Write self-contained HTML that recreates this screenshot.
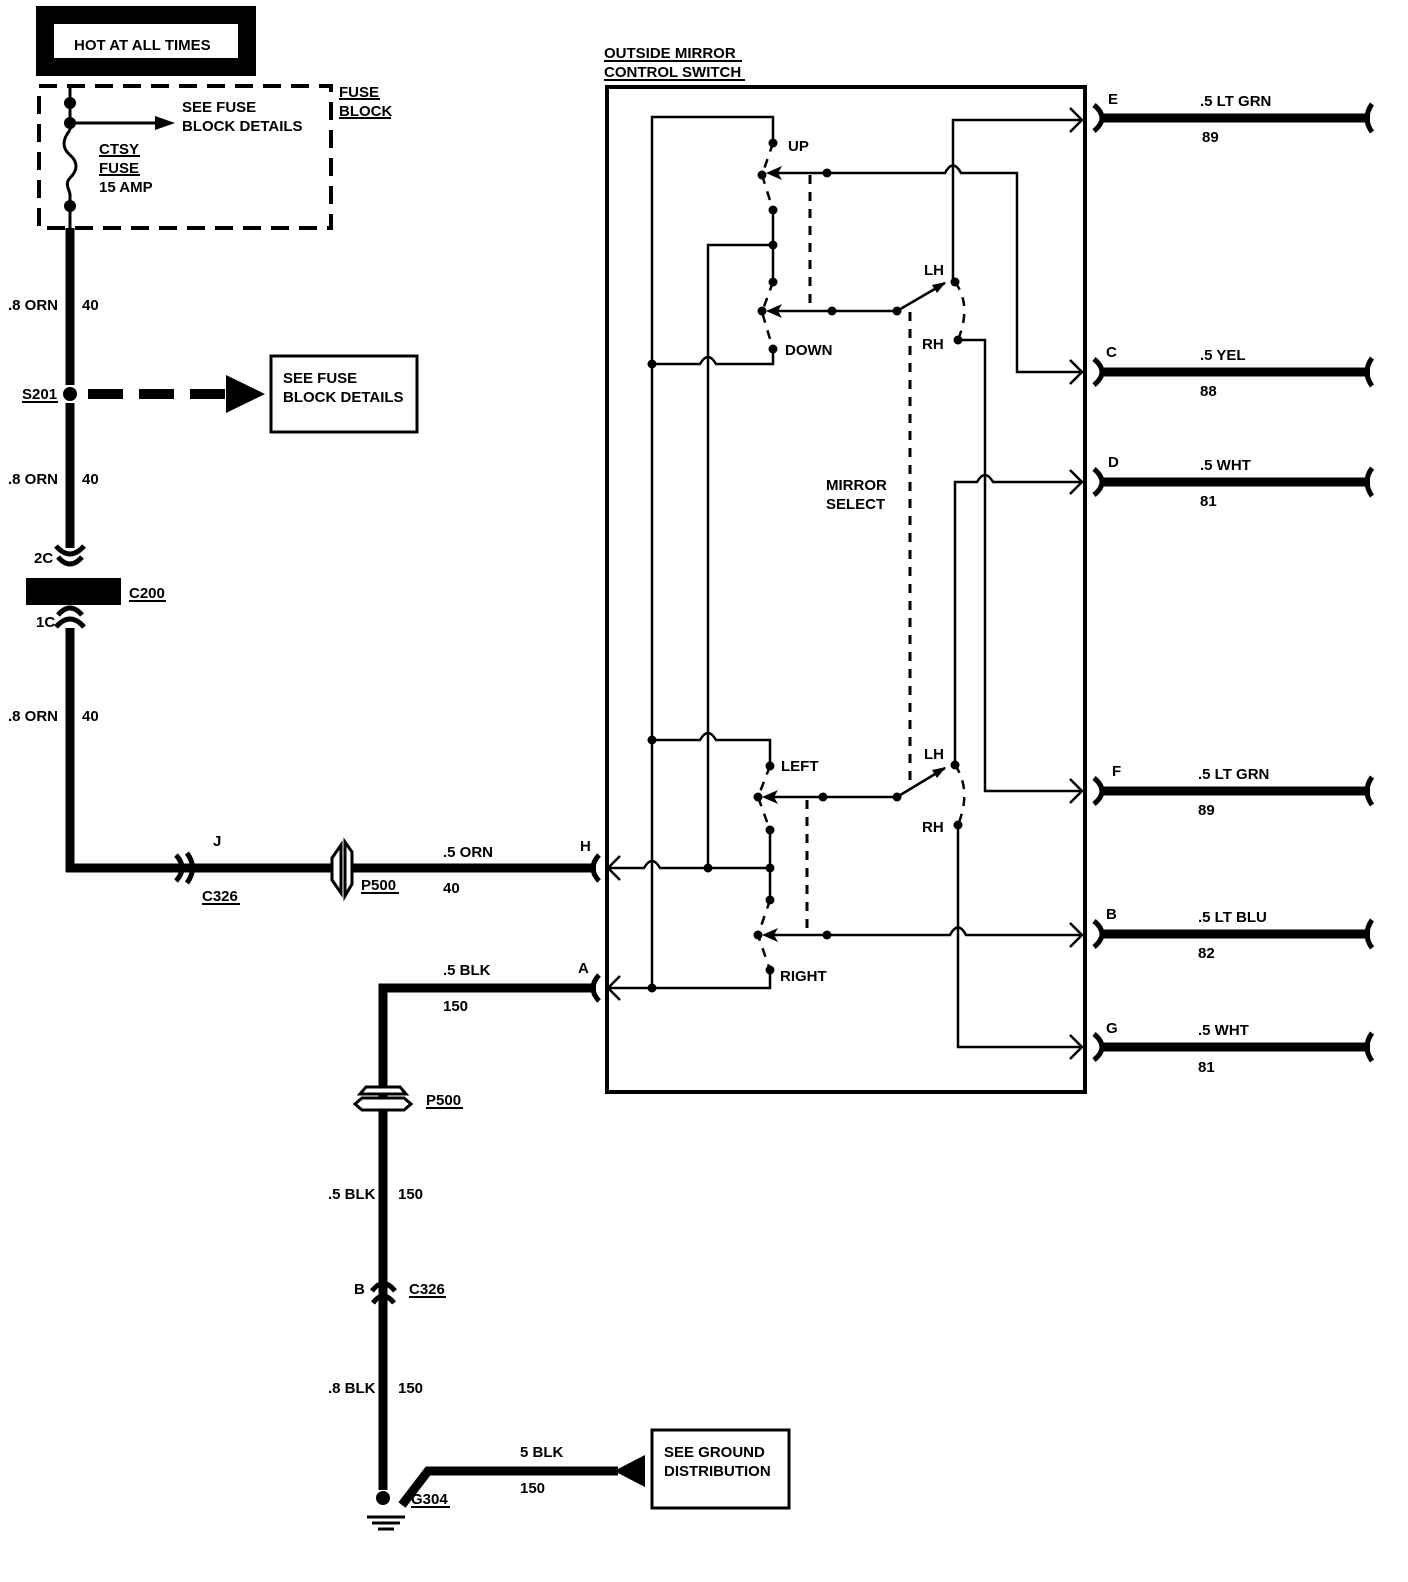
<!DOCTYPE html>
<html><head><meta charset="utf-8"><style>
html,body{margin:0;padding:0;background:#fff;}
svg{display:block;}
text{font-family:"Liberation Sans",sans-serif;font-weight:bold;font-size:15px;fill:#000;}
</style></head><body>
<svg width="1408" height="1582" viewBox="0 0 1408 1582" xmlns="http://www.w3.org/2000/svg">
<g stroke="#000" fill="none" stroke-linecap="butt">
<rect x="45" y="15" width="202" height="52" stroke-width="18"/>
<rect x="39" y="86" width="292" height="142" stroke-width="4" stroke-dasharray="18,10"/>
<line x1="70" y1="86" x2="70" y2="130" stroke-width="3"/>
<path d="M70 130 C62 140,62 148,70 155 C78 162,78 170,70 178 C64 184,70 190,70 195" stroke-width="3"/>
<line x1="70" y1="195" x2="70" y2="228" stroke-width="3"/>
<line x1="70" y1="123" x2="160" y2="123" stroke-width="3"/>
<line x1="70" y1="228" x2="70" y2="385" stroke-width="9"/>
<line x1="70" y1="403" x2="70" y2="548" stroke-width="9"/>
<line x1="88" y1="394" x2="232" y2="394" stroke-width="10" stroke-dasharray="35,16"/>
<rect x="271" y="356" width="146" height="76" stroke-width="3"/>
<path d="M56 546 Q70 562 84 546" stroke-width="5"/>
<path d="M58 557 Q70 571 82 557" stroke-width="5"/>
<path d="M58 615 Q70 601 82 615" stroke-width="5"/>
<path d="M56 627 Q70 611 84 627" stroke-width="5"/>
<line x1="70" y1="628" x2="70" y2="872" stroke-width="9"/>
<line x1="66" y1="868" x2="210" y2="868" stroke-width="9"/>
<path d="M176 855 Q188 868 176 881" stroke-width="5"/>
<path d="M187 853 Q198 868 187 883" stroke-width="5"/>
<line x1="192" y1="868" x2="332" y2="868" stroke-width="9"/>
<path d="M341 845 L332 858 L332 880 L341 893 Z" stroke-width="3" fill="#fff"/>
<path d="M345 842 L352 852 L352 884 L345 896 Z" stroke-width="3" fill="#fff"/>
<line x1="352" y1="868" x2="596" y2="868" stroke-width="9"/>
<path d="M599 855 Q587 868 599 881" stroke-width="5"/>
<path d="M596 988 L383 988 L383 1490" stroke-width="9"/>
<path d="M599 975 Q587 988 599 1001" stroke-width="5"/>
<path d="M360 1094 L366 1087 L400 1087 L406 1094 Z" stroke-width="3" fill="#fff"/>
<path d="M355 1104 L362 1098 L404 1098 L411 1104 L404 1110 L362 1110 Z" stroke-width="3" fill="#fff"/>
<path d="M372 1291 Q383 1276 395 1291" stroke-width="5"/>
<path d="M373 1303 Q383 1289 394 1303" stroke-width="5"/>
<path d="M402 1505 L428 1471 L618 1471" stroke-width="9"/>
<line x1="367" y1="1517" x2="405" y2="1517" stroke-width="3"/>
<line x1="372" y1="1523" x2="400" y2="1523" stroke-width="3"/>
<line x1="378" y1="1529" x2="394" y2="1529" stroke-width="3"/>
<rect x="652" y="1430" width="137" height="78" stroke-width="3"/>
<rect x="607" y="87" width="478" height="1005" stroke-width="4"/>
<g stroke-width="9">
<line x1="1100" y1="118" x2="1370" y2="118"/>
<line x1="1100" y1="372" x2="1370" y2="372"/>
<line x1="1100" y1="482" x2="1370" y2="482"/>
<line x1="1100" y1="791" x2="1370" y2="791"/>
<line x1="1100" y1="934" x2="1370" y2="934"/>
<line x1="1100" y1="1047" x2="1370" y2="1047"/>
</g>
<g stroke-width="5">
<path d="M1094 105 Q1110 118 1094 131"/><path d="M1372 104 Q1362 118 1372 132"/>
<path d="M1094 359 Q1110 372 1094 385"/><path d="M1372 358 Q1362 372 1372 386"/>
<path d="M1094 469 Q1110 482 1094 495"/><path d="M1372 468 Q1362 482 1372 496"/>
<path d="M1094 778 Q1110 791 1094 804"/><path d="M1372 777 Q1362 791 1372 805"/>
<path d="M1094 921 Q1110 934 1094 947"/><path d="M1372 920 Q1362 934 1372 948"/>
<path d="M1094 1034 Q1110 1047 1094 1060"/><path d="M1372 1033 Q1362 1047 1372 1061"/>
</g>
<g stroke-width="2.5">
<path d="M652 988 L652 117 L773 117 L773 143"/>
<path d="M652 364 L700 364 Q708 350 716 364 L773 364 L773 349"/>
<path d="M708 868 L708 245 L773 245"/>
<line x1="773" y1="210" x2="773" y2="282"/>
<path d="M770 173 L945 173 Q953 158 961 173 L1017 173 L1017 372 L1080 372"/>
<path d="M953 282 L953 120 L1080 120"/>
<line x1="770" y1="311" x2="897" y2="311"/>
<line x1="897" y1="311" x2="945" y2="283"/>
<path d="M958 340 L985 340 L985 791 L1080 791"/>
<path d="M955 765 L955 482 L977 482 Q985 468 993 482 L1080 482"/>
<path d="M652 740 L700 740 Q708 726 716 740 L770 740 L770 766"/>
<line x1="766" y1="797" x2="897" y2="797"/>
<line x1="897" y1="797" x2="945" y2="768"/>
<line x1="770" y1="830" x2="770" y2="900"/>
<path d="M608 868 L644 868 Q652 854 660 868 L770 868"/>
<path d="M770 970 L770 988 L608 988"/>
<path d="M766 935 L950 935 Q958 920 966 935 L1080 935"/>
<path d="M958 825 L958 1047 L1080 1047"/>
<path d="M1070 108 L1082 120 L1070 132"/>
<path d="M1070 360 L1082 372 L1070 384"/>
<path d="M1070 470 L1082 482 L1070 494"/>
<path d="M1070 779 L1082 791 L1070 803"/>
<path d="M1070 923 L1082 935 L1070 947"/>
<path d="M1070 1035 L1082 1047 L1070 1059"/>
<path d="M620 856 L608 868 L620 880"/>
<path d="M620 976 L608 988 L620 1000"/>
</g>
<g stroke-width="2.5" stroke-dasharray="9,8">
<path d="M773 143 L762 175 L773 210"/>
<path d="M773 282 L762 312 L773 349"/>
<path d="M770 766 L758 797 L770 830"/>
<path d="M770 900 L758 935 L770 970"/>
<path d="M955 282 Q972 305 958 340"/>
<path d="M955 765 Q972 790 958 825"/>
<line x1="810" y1="175" x2="810" y2="311" stroke-width="3"/>
<line x1="910" y1="312" x2="910" y2="790" stroke-width="3"/>
<line x1="807" y1="800" x2="807" y2="935" stroke-width="3"/>
</g>
<g stroke-width="2">
<line x1="339" y1="99" x2="380" y2="99"/><line x1="339" y1="118" x2="391" y2="118"/>
<line x1="99" y1="156" x2="140" y2="156"/><line x1="99" y1="175" x2="140" y2="175"/>
<line x1="604" y1="61" x2="742" y2="61"/><line x1="604" y1="80" x2="745" y2="80"/>
<line x1="22" y1="402" x2="58" y2="402"/>
<line x1="129" y1="601" x2="166" y2="601"/>
<line x1="202" y1="904" x2="240" y2="904"/>
<line x1="361" y1="893" x2="399" y2="893"/>
<line x1="426" y1="1108" x2="463" y2="1108"/>
<line x1="409" y1="1297" x2="446" y2="1297"/>
<line x1="411" y1="1507" x2="450" y2="1507"/>
</g>
</g>
<g fill="#000">
<rect x="26" y="578" width="95" height="27"/>
<circle cx="70" cy="103" r="6"/><circle cx="70" cy="123" r="6"/><circle cx="70" cy="206" r="6"/>
<circle cx="70" cy="394" r="7"/>
<polygon points="155,116 175,123 155,130"/>
<polygon points="226,375 265,394 226,413"/>
<polygon points="614,1471 645,1455 645,1487"/>
<circle cx="383" cy="1498" r="7"/>
<circle cx="652" cy="364" r="4.5"/><circle cx="652" cy="740" r="4.5"/><circle cx="652" cy="988" r="4.5"/>
<circle cx="773" cy="143" r="4.5"/><circle cx="762" cy="175" r="4.5"/><circle cx="773" cy="210" r="4.5"/>
<circle cx="773" cy="245" r="4.5"/><circle cx="773" cy="282" r="4.5"/><circle cx="762" cy="311" r="4.5"/>
<circle cx="773" cy="349" r="4.5"/><circle cx="827" cy="173" r="4.5"/><circle cx="832" cy="311" r="4.5"/>
<circle cx="897" cy="311" r="4.5"/><circle cx="955" cy="282" r="4.5"/><circle cx="958" cy="340" r="4.5"/>
<circle cx="770" cy="766" r="4.5"/><circle cx="758" cy="797" r="4.5"/><circle cx="823" cy="797" r="4.5"/>
<circle cx="897" cy="797" r="4.5"/><circle cx="955" cy="765" r="4.5"/><circle cx="958" cy="825" r="4.5"/>
<circle cx="770" cy="830" r="4.5"/><circle cx="770" cy="868" r="4.5"/><circle cx="708" cy="868" r="4.5"/>
<circle cx="770" cy="900" r="4.5"/><circle cx="758" cy="935" r="4.5"/><circle cx="827" cy="935" r="4.5"/>
<circle cx="770" cy="970" r="4.5"/>
<polygon points="766,173 782,166 778,173 782,180"/>
<polygon points="766,311 782,304 778,311 782,318"/>
<polygon points="762,797 778,790 774,797 778,804"/>
<polygon points="762,935 778,928 774,935 778,942"/>
<polygon points="946,282 932,285 937,293"/>
<polygon points="946,767 932,770 937,778"/>
</g>
<text x="74" y="50" font-size="17">HOT AT ALL TIMES</text>
<text x="339" y="97">FUSE</text><text x="339" y="116">BLOCK</text>
<text x="182" y="112">SEE FUSE</text><text x="182" y="131">BLOCK DETAILS</text>
<text x="99" y="154">CTSY</text><text x="99" y="173">FUSE</text><text x="99" y="192">15 AMP</text>
<text x="8" y="310">.8 ORN</text><text x="82" y="310">40</text>
<text x="22" y="399">S201</text>
<text x="283" y="383">SEE FUSE</text><text x="283" y="402">BLOCK DETAILS</text>
<text x="8" y="484">.8 ORN</text><text x="82" y="484">40</text>
<text x="34" y="563">2C</text><text x="36" y="627">1C</text>
<text x="129" y="598">C200</text>
<text x="8" y="721">.8 ORN</text><text x="82" y="721">40</text>
<text x="213" y="846">J</text>
<text x="202" y="901">C326</text><text x="361" y="890">P500</text>
<text x="443" y="857">.5 ORN</text><text x="443" y="893">40</text>
<text x="580" y="851">H</text>
<text x="443" y="975">.5 BLK</text><text x="443" y="1011">150</text>
<text x="578" y="973">A</text>
<text x="426" y="1105">P500</text>
<text x="328" y="1199">.5 BLK</text><text x="398" y="1199">150</text>
<text x="354" y="1294">B</text><text x="409" y="1294">C326</text>
<text x="328" y="1393">.8 BLK</text><text x="398" y="1393">150</text>
<text x="411" y="1504">G304</text>
<text x="520" y="1457">5 BLK</text><text x="520" y="1493">150</text>
<text x="664" y="1457">SEE GROUND</text><text x="664" y="1476">DISTRIBUTION</text>
<text x="604" y="58">OUTSIDE MIRROR</text><text x="604" y="77">CONTROL SWITCH</text>
<text x="788" y="151">UP</text><text x="785" y="355">DOWN</text>
<text x="924" y="275">LH</text><text x="922" y="349">RH</text>
<text x="826" y="490">MIRROR</text><text x="826" y="509">SELECT</text>
<text x="781" y="771">LEFT</text><text x="780" y="981">RIGHT</text>
<text x="924" y="759">LH</text><text x="922" y="832">RH</text>
<text x="1108" y="104">E</text><text x="1200" y="106">.5 LT GRN</text><text x="1202" y="142">89</text>
<text x="1106" y="357">C</text><text x="1200" y="360">.5 YEL</text><text x="1200" y="396">88</text>
<text x="1108" y="467">D</text><text x="1200" y="470">.5 WHT</text><text x="1200" y="506">81</text>
<text x="1112" y="776">F</text><text x="1198" y="779">.5 LT GRN</text><text x="1198" y="815">89</text>
<text x="1106" y="919">B</text><text x="1198" y="922">.5 LT BLU</text><text x="1198" y="958">82</text>
<text x="1106" y="1033">G</text><text x="1198" y="1035">.5 WHT</text><text x="1198" y="1072">81</text>
</svg>
</body></html>
